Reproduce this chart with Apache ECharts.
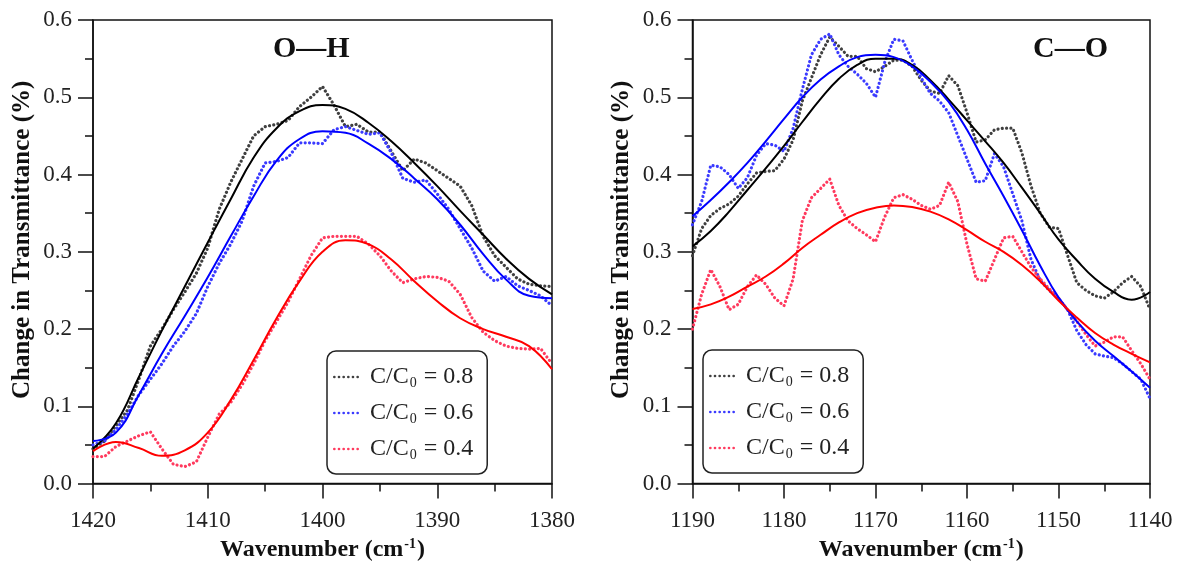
<!DOCTYPE html>
<html>
<head>
<meta charset="utf-8">
<script src="https://cdn.jsdelivr.net/npm/echarts@6/dist/echarts.min.js"></script>
<style>html,body{margin:0;padding:0;background:#fff;}#c{width:1177px;height:567px;}</style>
</head>
<body>
<div id="c"></div>
<script>
// ---------- O—H panel ----------
const ohRawX = [1420,1419,1418,1417,1416,1415,1414,1413,1412,1411,1410,1409,1408,1407,1406,1405,1404,1403,1402,1401,1400,1399,1398,1397,1396,1395,1394,1393,1392,1391,1390,1389,1388,1387,1386,1385,1384,1383,1382,1381,1380];
const ohRaw08 = [0.045,0.055,0.075,0.095,0.135,0.178,0.200,0.225,0.248,0.272,0.305,0.355,0.390,0.420,0.450,0.462,0.465,0.470,0.488,0.500,0.514,0.490,0.462,0.465,0.455,0.455,0.430,0.405,0.420,0.415,0.405,0.395,0.385,0.360,0.320,0.295,0.280,0.265,0.258,0.256,0.255];
const ohRaw06 = [0.050,0.055,0.070,0.090,0.115,0.135,0.155,0.178,0.197,0.220,0.255,0.285,0.310,0.340,0.385,0.415,0.417,0.422,0.441,0.441,0.440,0.458,0.462,0.457,0.452,0.454,0.428,0.395,0.390,0.393,0.375,0.355,0.330,0.305,0.275,0.262,0.268,0.256,0.250,0.243,0.230];
const ohRaw04 = [0.035,0.035,0.048,0.055,0.062,0.067,0.045,0.025,0.022,0.028,0.060,0.090,0.105,0.128,0.155,0.185,0.210,0.235,0.265,0.295,0.318,0.320,0.320,0.320,0.310,0.295,0.275,0.260,0.265,0.268,0.267,0.262,0.245,0.215,0.196,0.185,0.178,0.175,0.174,0.175,0.155];
const ohFitX = [1420,1418,1416,1414,1412,1410,1408,1406,1404,1402,1400,1398,1396,1394,1392,1390,1388,1386,1384,1382,1380];
const ohFit08 = [0.045,0.078,0.138,0.198,0.255,0.312,0.368,0.422,0.460,0.482,0.490,0.485,0.467,0.443,0.415,0.385,0.353,0.322,0.291,0.265,0.245];
const ohFit06 = [0.055,0.066,0.115,0.168,0.217,0.267,0.320,0.372,0.418,0.446,0.456,0.454,0.440,0.420,0.395,0.368,0.335,0.297,0.264,0.243,0.240];
const ohFit04 = [0.042,0.054,0.046,0.036,0.043,0.066,0.108,0.160,0.214,0.262,0.300,0.315,0.310,0.290,0.262,0.236,0.214,0.200,0.190,0.178,0.148];

// ---------- C—O panel ----------
const coRawX = [1190,1189,1188,1187,1186,1185,1184,1183,1182,1181,1180,1179,1178,1177,1176,1175,1174,1173,1172,1171,1170,1169,1168,1167,1166,1165,1164,1163,1162,1161,1160,1159,1158,1157,1156,1155,1154,1153,1152,1151,1150,1149,1148,1147,1146,1145,1144,1143,1142,1141,1140];
const coRaw08 = [0.295,0.330,0.347,0.356,0.362,0.372,0.388,0.402,0.404,0.405,0.420,0.445,0.495,0.525,0.555,0.578,0.566,0.553,0.553,0.537,0.533,0.540,0.548,0.548,0.540,0.522,0.508,0.505,0.528,0.515,0.480,0.442,0.445,0.458,0.460,0.460,0.428,0.385,0.350,0.332,0.330,0.295,0.260,0.250,0.243,0.240,0.248,0.260,0.268,0.255,0.225];
const coRaw06 = [0.335,0.365,0.412,0.410,0.400,0.382,0.396,0.425,0.440,0.438,0.430,0.460,0.510,0.555,0.575,0.582,0.555,0.540,0.530,0.518,0.500,0.545,0.575,0.573,0.548,0.525,0.505,0.495,0.480,0.450,0.420,0.390,0.392,0.427,0.410,0.375,0.340,0.290,0.263,0.250,0.240,0.225,0.198,0.180,0.168,0.165,0.163,0.155,0.145,0.135,0.110];
const coRaw04 = [0.200,0.245,0.277,0.255,0.225,0.232,0.255,0.270,0.258,0.240,0.230,0.265,0.340,0.370,0.382,0.394,0.360,0.340,0.330,0.322,0.313,0.345,0.370,0.374,0.368,0.360,0.355,0.360,0.390,0.365,0.310,0.265,0.262,0.290,0.318,0.320,0.300,0.280,0.265,0.252,0.240,0.225,0.210,0.193,0.178,0.183,0.190,0.190,0.172,0.155,0.135];
const coFitX = [1190,1188,1186,1184,1182,1180,1178,1176,1174,1172,1170,1168,1166,1164,1162,1160,1158,1156,1154,1152,1150,1148,1146,1144,1142,1140];
const coFit08 = [0.307,0.327,0.352,0.380,0.408,0.437,0.468,0.498,0.524,0.542,0.550,0.550,0.542,0.522,0.497,0.470,0.443,0.415,0.383,0.350,0.316,0.289,0.265,0.248,0.238,0.248];
const coFit06 = [0.346,0.367,0.390,0.415,0.443,0.472,0.500,0.523,0.540,0.552,0.555,0.552,0.540,0.520,0.494,0.458,0.414,0.372,0.328,0.282,0.241,0.210,0.185,0.165,0.145,0.124];
const coFit04 = [0.226,0.232,0.242,0.255,0.268,0.285,0.305,0.322,0.338,0.350,0.357,0.360,0.358,0.352,0.342,0.328,0.313,0.300,0.283,0.262,0.237,0.215,0.195,0.180,0.168,0.157];

const legendNames = ['C/C0 = 0.8','C/C0 = 0.6','C/C0 = 0.4'];
const panelTitles = ['O\u2014H','C\u2014O'];

const SERIF = '"Liberation Serif", "DejaVu Serif", serif';
const dotCols = ['#404040','#3a3aff','#ff3a5e'];
const fitCols = ['#000000','#0000ff','#ff0000'];

function zip(xs, ys){ return xs.map((x,i)=>[x, ys[i]]); }

// dotted legend icon: small round dots in a 26 x 3 box
const dotIcon = 'path://' + [1.5,6.7,11.9,17.1,22.3,27.5].map(c =>
  'M' + (c-1.5) + ',1.5a1.5,1.5 0 1,0 3,0a1.5,1.5 0 1,0 -3,0').join(' ');

function xAxisOpt(idx, mn, mx){
  return {
    type:'value', gridIndex: idx, min: mn, max: mx, interval: 10, inverse: true,
    axisLine:{show:true, lineStyle:{color:'#111', width:1.5}},
    axisTick:{show:true, length:15, lineStyle:{color:'#111', width:1.5}},
    minorTick:{show:true, splitNumber:2, length:8, lineStyle:{color:'#111', width:1.5}},
    splitLine:{show:false},
    axisLabel:{fontFamily:SERIF, fontSize:23, color:'#222', margin:26, formatter:v=>String(v)},
    name:'{b|Wavenumber (cm}{s|-1}{b|)}', nameLocation:'middle', nameGap:52,
    nameTextStyle:{rich:{
      b:{fontFamily:SERIF, fontSize:24, fontWeight:'bold', color:'#111'},
      s:{fontFamily:SERIF, fontSize:14, fontWeight:'bold', color:'#111', verticalAlign:'top', padding:[0,1,11,1]}
    }}
  };
}
function yAxisOpt(idx){
  return {
    type:'value', gridIndex: idx, min: 0, max: 0.6, interval: 0.1,
    axisLine:{show:true, lineStyle:{color:'#111', width:1.5}},
    axisTick:{show:true, length:15, lineStyle:{color:'#111', width:1.5}},
    minorTick:{show:true, splitNumber:2, length:8, lineStyle:{color:'#111', width:1.5}},
    splitLine:{show:false},
    axisLabel:{fontFamily:SERIF, fontSize:23, color:'#222', margin:21, formatter:v=>v.toFixed(1)},
    name:'Change in Transmittance (%)', nameLocation:'middle', nameGap:58, nameRotate:90,
    nameTextStyle:{fontFamily:SERIF, fontSize:25, fontWeight:'bold', color:'#111', padding:[0,0,0,24]}
  };
}
function dotSeries(name, xi, xs, ys, col){
  return {type:'line', name:name, xAxisIndex:xi, yAxisIndex:xi, data:zip(xs,ys), symbol:'none', smooth:false,
    lineStyle:{color:col, width:3.2, type:[0.01,4.3], cap:'round', join:'round'}, itemStyle:{color:col}, z:2, silent:true};
}
function fitSeries(name, xi, xs, ys, col){
  return {type:'line', name:name, xAxisIndex:xi, yAxisIndex:xi, data:zip(xs,ys), symbol:'none', smooth:0.45,
    lineStyle:{color:col, width:2}, itemStyle:{color:col}, z:3, silent:true};
}
function legendOpt(left, top){
  return {
    left:left, top:top, orient:'vertical', data:legendNames.map(n=>({name:n, icon:dotIcon})),
    itemWidth:26, itemHeight:3, itemGap:10,
    selectedMode:false, borderColor:'#222', borderWidth:1.5, borderRadius:9, padding:[13,14,12,6],
    backgroundColor:'#fff',
    textStyle:{fontFamily:SERIF, fontSize:24, color:'#222', lineHeight:26, padding:[0,0,0,6],
      rich:{
        n:{fontFamily:SERIF, fontSize:24, color:'#222', lineHeight:26},
        s:{fontFamily:SERIF, fontSize:14, color:'#222', lineHeight:26, verticalAlign:'bottom', padding:[12,1,0,1]}
      }},
    formatter: function(name){ const v = name.split('= ')[1]; return '{n|C/C}{s|0}{n| = ' + v + '}'; }
  };
}

const chart = echarts.init(document.getElementById('c'), null, {renderer:'canvas'});
chart.setOption({
  animation:false,
  backgroundColor:'#fff',
  title:[
    {text:panelTitles[0], left:268, top:29, textStyle:{fontFamily:SERIF, fontSize:30, fontWeight:'bold', color:'#111'}},
    {text:panelTitles[1], left:1028, top:29, textStyle:{fontFamily:SERIF, fontSize:30, fontWeight:'bold', color:'#111'}}
  ],
  grid:[
    {left:93, top:20, width:459, height:465, show:true, borderColor:'#111', borderWidth:1.5, backgroundColor:'transparent'},
    {left:692.5, top:20, width:457.5, height:465, show:true, borderColor:'#111', borderWidth:1.5, backgroundColor:'transparent'}
  ],
  xAxis:[xAxisOpt(0,1380,1420), xAxisOpt(1,1140,1190)],
  yAxis:[yAxisOpt(0), yAxisOpt(1)],
  legend:[legendOpt(327,351), legendOpt(703,350)],
  series:[
    dotSeries(legendNames[0],0,ohRawX,ohRaw08,dotCols[0]),
    dotSeries(legendNames[1],0,ohRawX,ohRaw06,dotCols[1]),
    dotSeries(legendNames[2],0,ohRawX,ohRaw04,dotCols[2]),
    fitSeries('fit08a',0,ohFitX,ohFit08,fitCols[0]),
    fitSeries('fit06a',0,ohFitX,ohFit06,fitCols[1]),
    fitSeries('fit04a',0,ohFitX,ohFit04,fitCols[2]),
    dotSeries(legendNames[0],1,coRawX,coRaw08,dotCols[0]),
    dotSeries(legendNames[1],1,coRawX,coRaw06,dotCols[1]),
    dotSeries(legendNames[2],1,coRawX,coRaw04,dotCols[2]),
    fitSeries('fit08b',1,coFitX,coFit08,fitCols[0]),
    fitSeries('fit06b',1,coFitX,coFit06,fitCols[1]),
    fitSeries('fit04b',1,coFitX,coFit04,fitCols[2])
  ]
});
</script>
</body>
</html>
